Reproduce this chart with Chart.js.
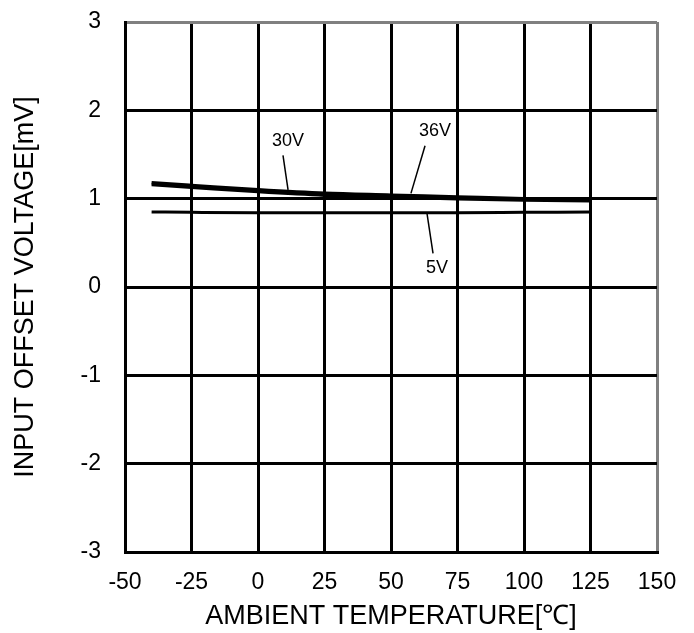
<!DOCTYPE html>
<html lang="en">
<head>
  <meta charset="UTF-8" />
  <title>Input Offset Voltage vs Ambient Temperature</title>
  <script src="https://cdn.jsdelivr.net/npm/chart.js"></script>
  <style>
    html, body {
      margin: 0;
      padding: 0;
      background: #fff;
    }
    .chart-wrap {
      position: relative;
      width: 694px;
      height: 633px;
    }
  </style>
</head>
<body>
  <div class="chart-wrap">
    <canvas id="vioChart" aria-label="Input offset voltage versus ambient temperature" role="img"></canvas>
  </div>

  <script>
    // Temperature points (°C)
    const temps = [-40, -25, 0, 25, 50, 75, 100, 125];

    // Input offset voltage (mV) per supply voltage
    const vio5V  = [0.85, 0.845, 0.84, 0.84, 0.84, 0.84, 0.845, 0.85];
    const vio30V = [1.16, 1.13, 1.08, 1.04, 1.02, 1.00, 0.985, 0.975];
    const vio36V = [1.18, 1.15, 1.10, 1.06, 1.04, 1.02, 1.00, 0.99];

    // Curve labels: text, label position, leader line start/end (data units)
    const curveLabels = [
      { text: '30V', at: [11.3, 1.65], from: [9.4, 1.49], to: [11.3, 1.10] },
      { text: '36V', at: [66.5, 1.77], from: [62.8, 1.60], to: [57.5, 1.06] },
      { text: '5V',  at: [67.3, 0.21], from: [63.5, 0.84], to: [65.8, 0.38] }
    ];

    const FONT = '"Liberation Sans", Arial, sans-serif';

    function toPoints(ys) {
      return temps.map((t, i) => ({ x: t, y: ys[i] }));
    }

    // Draws the "30V / 36V / 5V" callouts with their leader lines
    const calloutPlugin = {
      id: 'callouts',
      afterDatasetsDraw(chart) {
        const { ctx, scales: { x, y } } = chart;
        ctx.save();
        ctx.strokeStyle = '#000';
        ctx.lineWidth = 1.5;
        ctx.fillStyle = '#000';
        ctx.font = '18px ' + FONT;
        ctx.textAlign = 'center';
        ctx.textBaseline = 'middle';
        curveLabels.forEach(lbl => {
          ctx.beginPath();
          ctx.moveTo(x.getPixelForValue(lbl.from[0]), y.getPixelForValue(lbl.from[1]));
          ctx.lineTo(x.getPixelForValue(lbl.to[0]), y.getPixelForValue(lbl.to[1]));
          ctx.stroke();
          ctx.fillText(lbl.text, x.getPixelForValue(lbl.at[0]), y.getPixelForValue(lbl.at[1]));
        });
        ctx.restore();
      }
    };

    const lineStyle = {
      borderColor: '#000',
      backgroundColor: '#000',
      pointRadius: 0,
      fill: false,
      cubicInterpolationMode: 'monotone'
    };

    new Chart(document.getElementById('vioChart'), {
      type: 'line',
      data: {
        datasets: [
          { label: '5V',  data: toPoints(vio5V),  borderWidth: 3,   ...lineStyle },
          { label: '30V', data: toPoints(vio30V), borderWidth: 3.5, ...lineStyle },
          { label: '36V', data: toPoints(vio36V), borderWidth: 3.5, ...lineStyle }
        ]
      },
      options: {
        responsive: true,
        maintainAspectRatio: false,
        animation: false,
        layout: { padding: { left: 0, top: 22, right: 37, bottom: 0 } },
        plugins: {
          legend: { display: false },
          tooltip: { enabled: false }
        },
        scales: {
          x: {
            type: 'linear',
            min: -50,
            max: 150,
            afterFit: s => {
              s.height = 81;
              s.paddingLeft = 0;
              s.paddingRight = 0;
            },
            ticks: {
              stepSize: 25,
              color: '#000',
              padding: 17,
              maxRotation: 0,
              font: { family: FONT, size: 23 }
            },
            grid: {
              drawTicks: false,
              lineWidth: 3,
              color: c => (c.tick && c.tick.value === 150 ? '#808080' : '#000')
            },
            border: { color: '#000', width: 3 },
            title: {
              display: true,
              text: 'AMBIENT TEMPERATURE[℃]',
              color: '#000',
              padding: 0,
              font: { family: FONT, size: 27 }
            }
          },
          y: {
            min: -3,
            max: 3,
            afterFit: s => {
              s.width = 125;
              s.paddingTop = 0;
              s.paddingBottom = 0;
            },
            ticks: {
              stepSize: 1,
              color: '#000',
              padding: 24,
              font: { family: FONT, size: 23 }
            },
            grid: {
              drawTicks: false,
              lineWidth: 3,
              color: c => (c.tick && c.tick.value === 3 ? '#808080' : '#000')
            },
            border: { color: '#000', width: 3 },
            title: {
              display: true,
              text: 'INPUT OFFSET VOLTAGE[mV]',
              color: '#000',
              padding: { top: 9, bottom: 0 },
              font: { family: FONT, size: 27 }
            }
          }
        }
      },
      plugins: [calloutPlugin]
    });
  </script>
</body>
</html>
